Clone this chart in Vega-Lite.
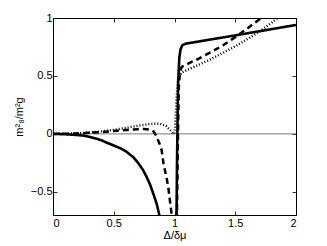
{
  "$schema": "https://vega.github.io/schema/vega-lite/v6.json",
  "width": 243,
  "height": 197,
  "autosize": "none",
  "padding": {"left": 53, "top": 18, "right": 31, "bottom": 31},
  "background": "white",
  "config": {
    "view": {"stroke": "black", "strokeWidth": 1},
    "axis": {
      "domain": false,
      "grid": false,
      "tickColor": "black",
      "tickSize": -4,
      "tickWidth": 0.8,
      "labelFont": "Liberation Sans",
      "labelFontSize": 11,
      "labelColor": "black",
      "titleFont": "Liberation Sans",
      "titleFontSize": 11,
      "titleFontWeight": "normal",
      "titleColor": "black"
    }
  },
  "datasets": {
    "curves": [
      {"s": "solid", "x": 0, "y": 0},
      {"s": "solid", "x": 0.1, "y": -0.003},
      {"s": "solid", "x": 0.2, "y": -0.01},
      {"s": "solid", "x": 0.25, "y": -0.015},
      {"s": "solid", "x": 0.3, "y": -0.025},
      {"s": "solid", "x": 0.4, "y": -0.055},
      {"s": "solid", "x": 0.44, "y": -0.075},
      {"s": "solid", "x": 0.5, "y": -0.1},
      {"s": "solid", "x": 0.55, "y": -0.122},
      {"s": "solid", "x": 0.6, "y": -0.15},
      {"s": "solid", "x": 0.63, "y": -0.175},
      {"s": "solid", "x": 0.66, "y": -0.2},
      {"s": "solid", "x": 0.7, "y": -0.25},
      {"s": "solid", "x": 0.74, "y": -0.31},
      {"s": "solid", "x": 0.77, "y": -0.37},
      {"s": "solid", "x": 0.8, "y": -0.44},
      {"s": "solid", "x": 0.83, "y": -0.53},
      {"s": "solid", "x": 0.855, "y": -0.61},
      {"s": "solid", "x": 0.875, "y": -0.7},
      {"s": "solid", "x": 0.89, "y": -0.78},
      {"s": "solid", "x": 0.92, "y": -1.0},
      {"s": "solid", "x": 0.95, "y": -1.5},
      {"s": "solid", "x": 1.0, "y": -1.5},
      {"s": "solid", "x": 1.014, "y": -0.9},
      {"s": "solid", "x": 1.017, "y": -0.7},
      {"s": "solid", "x": 1.02, "y": -0.3},
      {"s": "solid", "x": 1.025, "y": 0.1},
      {"s": "solid", "x": 1.03, "y": 0.45},
      {"s": "solid", "x": 1.04, "y": 0.66},
      {"s": "solid", "x": 1.05, "y": 0.73},
      {"s": "solid", "x": 1.065, "y": 0.765},
      {"s": "solid", "x": 1.09, "y": 0.778},
      {"s": "solid", "x": 1.3, "y": 0.815},
      {"s": "solid", "x": 1.5, "y": 0.85},
      {"s": "solid", "x": 1.75, "y": 0.895},
      {"s": "solid", "x": 2.0, "y": 0.94},
      {"s": "dashed", "x": 0, "y": 0},
      {"s": "dashed", "x": 0.1, "y": 0.001},
      {"s": "dashed", "x": 0.2, "y": 0.004},
      {"s": "dashed", "x": 0.3, "y": 0.009},
      {"s": "dashed", "x": 0.4, "y": 0.016},
      {"s": "dashed", "x": 0.5, "y": 0.025},
      {"s": "dashed", "x": 0.6, "y": 0.034},
      {"s": "dashed", "x": 0.7, "y": 0.041},
      {"s": "dashed", "x": 0.75, "y": 0.043},
      {"s": "dashed", "x": 0.8, "y": 0.037},
      {"s": "dashed", "x": 0.83, "y": 0.02},
      {"s": "dashed", "x": 0.855, "y": -0.03},
      {"s": "dashed", "x": 0.875, "y": -0.08},
      {"s": "dashed", "x": 0.894, "y": -0.14},
      {"s": "dashed", "x": 0.91, "y": -0.26},
      {"s": "dashed", "x": 0.935, "y": -0.38},
      {"s": "dashed", "x": 0.95, "y": -0.47},
      {"s": "dashed", "x": 0.963, "y": -0.58},
      {"s": "dashed", "x": 0.977, "y": -0.7},
      {"s": "dashed", "x": 0.985, "y": -0.8},
      {"s": "dashed", "x": 0.99, "y": -1.5},
      {"s": "dashed", "x": 1.01, "y": -1.5},
      {"s": "dashed", "x": 1.02, "y": -0.7},
      {"s": "dashed", "x": 1.025, "y": -0.3},
      {"s": "dashed", "x": 1.03, "y": 0.1},
      {"s": "dashed", "x": 1.035, "y": 0.4},
      {"s": "dashed", "x": 1.045, "y": 0.54},
      {"s": "dashed", "x": 1.06, "y": 0.578},
      {"s": "dashed", "x": 1.07, "y": 0.585},
      {"s": "dashed", "x": 1.2, "y": 0.65},
      {"s": "dashed", "x": 1.3, "y": 0.705},
      {"s": "dashed", "x": 1.4, "y": 0.765},
      {"s": "dashed", "x": 1.5, "y": 0.835},
      {"s": "dashed", "x": 1.6, "y": 0.91},
      {"s": "dashed", "x": 1.7, "y": 0.99},
      {"s": "dashed", "x": 1.75, "y": 1.03},
      {"s": "dotted", "x": 0, "y": 0},
      {"s": "dotted", "x": 0.1, "y": 0.001},
      {"s": "dotted", "x": 0.2, "y": 0.005},
      {"s": "dotted", "x": 0.3, "y": 0.012},
      {"s": "dotted", "x": 0.4, "y": 0.022},
      {"s": "dotted", "x": 0.5, "y": 0.035},
      {"s": "dotted", "x": 0.6, "y": 0.052},
      {"s": "dotted", "x": 0.7, "y": 0.07},
      {"s": "dotted", "x": 0.8, "y": 0.086},
      {"s": "dotted", "x": 0.88, "y": 0.088},
      {"s": "dotted", "x": 0.93, "y": 0.07},
      {"s": "dotted", "x": 0.963, "y": 0.035},
      {"s": "dotted", "x": 0.985, "y": 0.006},
      {"s": "dotted", "x": 0.997, "y": 0.0},
      {"s": "dotted", "x": 1.005, "y": 0.06},
      {"s": "dotted", "x": 1.012, "y": 0.2},
      {"s": "dotted", "x": 1.02, "y": 0.36},
      {"s": "dotted", "x": 1.03, "y": 0.46},
      {"s": "dotted", "x": 1.045, "y": 0.51},
      {"s": "dotted", "x": 1.06, "y": 0.53},
      {"s": "dotted", "x": 1.28, "y": 0.635},
      {"s": "dotted", "x": 1.5, "y": 0.755},
      {"s": "dotted", "x": 1.65, "y": 0.85},
      {"s": "dotted", "x": 1.75, "y": 0.92},
      {"s": "dotted", "x": 1.85, "y": 1.0},
      {"s": "dotted", "x": 1.9, "y": 1.04}
    ]
  },
  "layer": [
    {
      "data": {"values": [{"y": 0}]},
      "mark": {"type": "rule", "color": "#555555", "strokeWidth": 0.8},
      "encoding": {
        "y": {"field": "y", "type": "quantitative", "scale": {"domain": [-0.7, 1]}, "axis": null}
      }
    },
    {
      "data": {"name": "curves"},
      "mark": {"type": "line", "clip": true, "color": "black", "strokeCap": "butt"},
      "encoding": {
        "x": {
          "field": "x", "type": "quantitative",
          "scale": {"domain": [0, 2], "nice": false, "zero": false},
          "axis": {"orient": "bottom", "values": [0, 0.5, 1, 1.5, 2], "format": "~g", "title": "Δ/δμ", "labelPadding": 6, "titlePadding": 1}
        },
        "y": {
          "field": "y", "type": "quantitative",
          "scale": {"domain": [-0.7, 1], "nice": false, "zero": false},
          "axis": {"orient": "left", "values": [-0.5, 0, 0.5, 1], "format": "~g", "title": "m²₈/m²g", "labelPadding": 5, "titlePadding": 6}
        },
        "detail": {"field": "s", "type": "nominal"},
        "strokeDash": {
          "field": "s", "type": "nominal",
          "scale": {"domain": ["solid", "dashed", "dotted"], "range": [[1, 0], [6, 4], [1, 2]]},
          "legend": null
        },
        "strokeWidth": {
          "field": "s", "type": "nominal",
          "scale": {"domain": ["solid", "dashed", "dotted"], "range": [2.6, 2.4, 1.3]},
          "legend": null
        }
      }
    },
    {
      "data": {"name": "curves"},
      "mark": {"type": "point", "opacity": 0, "size": 0},
      "encoding": {
        "x": {"field": "x", "type": "quantitative", "axis": {"orient": "top", "values": [0, 0.5, 1, 1.5, 2], "labels": false, "title": null}},
        "y": {"field": "y", "type": "quantitative", "axis": {"orient": "right", "values": [-0.5, 0, 0.5, 1], "labels": false, "title": null}}
      }
    }
  ],
  "resolve": {"axis": {"x": "independent", "y": "independent"}}
}
